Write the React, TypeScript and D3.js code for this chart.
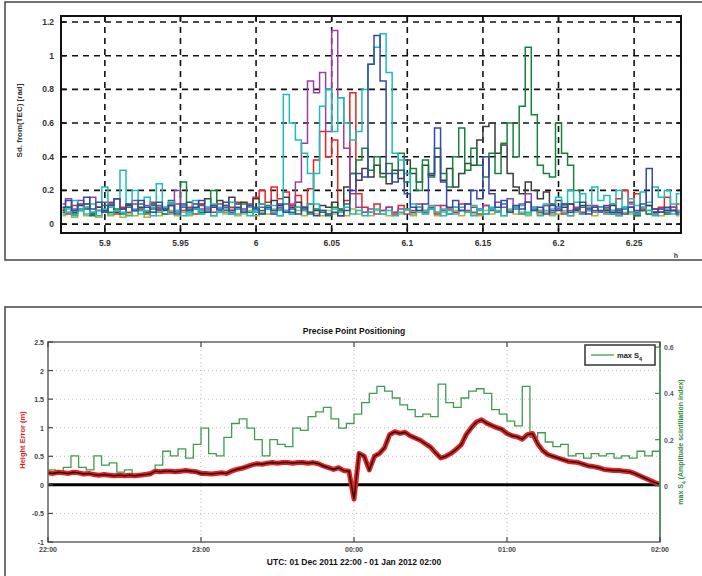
import React from 'react';
import * as d3 from 'd3';

// ---------- Top panel data ----------
const topTicksX = [5.9, 5.95, 6, 6.05, 6.1, 6.15, 6.2, 6.25];
const topTickLabelsX = ['5.9', '5.95', '6', '6.05', '6.1', '6.15', '6.2', '6.25'];
const topTicksY = [0, 0.2, 0.4, 0.6, 0.8, 1, 1.2];
const topTickLabelsY = ['0', '0.2', '0.4', '0.6', '0.8', '1', '1.2'];
const topStart = 5.872;
const topStep = 0.004;

const olive = [
  0.05,0.07,0.04,0.08,0.05,0.06,0.04,0.07,0.05,0.08,
  0.04,0.06,0.05,0.09,0.04,0.07,0.05,0.06,0.08,0.05,
  0.07,0.05,0.09,0.06,0.08,0.05,0.07,0.06,0.09,0.05,
  0.06,0.08,0.05,0.07,0.06,0.09,0.05,0.07,0.06,0.08,
  0.05,0.07,0.06,0.05,0.08,0.06,0.07,0.05,0.09,0.06,
  0.07,0.05,0.08,0.06,0.05,0.07,0.06,0.08,0.05,0.07,
  0.06,0.09,0.05,0.07,0.06,0.08,0.05,0.07,0.06,0.05,
  0.08,0.06,0.07,0.05,0.09,0.06,0.07,0.05,0.08,0.06,
  0.07,0.05,0.06,0.08,0.05,0.07,0.06,0.09,0.05,0.07,
  0.06,0.08,0.05,0.07,0.06,0.05,0.08,0.06,0.07,0.05,
  0.06,0.08,0.05,
];
const red = [
  0.09,0.06,0.11,0.08,0.12,0.07,0.1,0.08,0.13,0.06,
  0.1,0.07,0.12,0.09,0.06,0.11,0.08,0.1,0.07,0.12,
  0.08,0.1,0.06,0.11,0.09,0.07,0.12,0.08,0.1,0.13,
  0.09,0.12,0.16,0.2,0.13,0.22,0.15,0.19,0.11,0.17,
  0.1,0.21,0.38,0.55,0.4,0.5,0.05,0.14,0.78,0.18,
  0.1,0.07,0.12,0.08,0.1,0.06,0.11,0.09,0.07,0.12,
  0.08,0.1,0.06,0.11,0.09,0.07,0.12,0.08,0.1,0.06,
  0.11,0.09,0.07,0.12,0.08,0.1,0.06,0.13,0.09,0.07,
  0.11,0.08,0.1,0.06,0.12,0.09,0.07,0.11,0.08,0.1,
  0.07,0.12,0.15,0.2,0.13,0.18,0.09,0.11,0.07,0.1,
  0.16,0.08,0.12,
];
const dark = [
  0.08,0.1,0.07,0.11,0.09,0.06,0.1,0.08,0.12,0.07,
  0.09,0.11,0.08,0.1,0.07,0.12,0.09,0.08,0.11,0.07,
  0.1,0.13,0.09,0.12,0.15,0.1,0.14,0.11,0.16,0.12,
  0.13,0.1,0.15,0.12,0.09,0.14,0.11,0.16,0.1,0.13,
  0.09,0.12,0.08,0.11,0.1,0.13,0.09,0.22,0.3,0.26,
  0.33,0.28,0.35,0.3,0.24,0.32,0.27,0.38,0.3,0.25,
  0.35,0.29,0.4,0.26,0.33,0.22,0.3,0.36,0.35,0.5,
  0.58,0.6,0.42,0.47,0.3,0.22,0.18,0.25,0.2,0.15,
  0.19,0.12,0.14,0.1,0.12,0.08,0.11,0.09,0.07,0.1,
  0.08,0.11,0.07,0.09,0.1,0.06,0.08,0.11,0.07,0.09,
  0.08,0.1,0.07,
];
const green = [
  0.07,0.1,0.06,0.09,0.12,0.05,0.08,0.11,0.07,0.09,
  0.06,0.1,0.08,0.12,0.07,0.09,0.11,0.06,0.14,0.08,
  0.25,0.09,0.12,0.07,0.1,0.2,0.08,0.11,0.06,0.09,
  0.12,0.07,0.1,0.08,0.11,0.06,0.09,0.12,0.07,0.1,
  0.08,0.06,0.09,0.07,0.05,0.1,0.08,0.12,0.3,0.38,
  0.45,0.32,0.4,0.28,0.36,0.3,0.42,0.25,0.33,0.2,
  0.38,0.28,0.45,0.3,0.22,0.4,0.57,0.32,0.45,0.35,
  0.28,0.42,0.3,0.48,0.6,0.4,0.7,1.05,0.65,0.35,
  0.3,0.28,0.6,0.42,0.35,0.2,0.1,0.08,0.1,0.07,
  0.09,0.06,0.08,0.1,0.07,0.05,0.08,0.06,0.09,0.07,
  0.06,0.08,0.07,
];
const purple = [
  0.12,0.15,0.09,0.14,0.1,0.16,0.08,0.13,0.11,0.15,
  0.09,0.12,0.14,0.08,0.11,0.13,0.1,0.09,0.12,0.2,
  0.1,0.08,0.12,0.09,0.07,0.11,0.08,0.1,0.07,0.09,
  0.08,0.11,0.07,0.1,0.09,0.06,0.1,0.08,0.12,0.25,
  0.48,0.85,0.78,0.9,0.55,1.15,0.75,0.45,0.18,0.1,
  0.07,0.09,0.06,0.08,0.1,0.07,0.09,0.06,0.08,0.1,
  0.07,0.09,0.11,0.08,0.06,0.1,0.08,0.12,0.07,0.09,
  0.11,0.08,0.13,0.1,0.15,0.09,0.12,0.18,0.1,0.08,
  0.11,0.07,0.09,0.12,0.08,0.1,0.06,0.09,0.11,0.07,
  0.1,0.08,0.06,0.09,0.12,0.07,0.1,0.08,0.06,0.09,
  0.07,0.1,0.08,
];
const cyanA = [
  0.1,0.07,0.14,0.09,0.06,0.12,0.08,0.22,0.1,0.15,
  0.32,0.12,0.2,0.08,0.16,0.1,0.24,0.09,0.13,0.07,
  0.11,0.06,0.14,0.08,0.1,0.12,0.07,0.09,0.13,0.06,
  0.08,0.1,0.07,0.12,0.09,0.11,0.08,0.77,0.6,0.5,
  0.42,0.3,0.12,0.08,0.06,0.09,0.07,0.1,0.06,0.08,
  0.05,0.07,0.09,0.06,0.08,0.05,0.07,0.09,0.06,0.1,
  0.08,0.11,0.07,0.09,0.06,0.1,0.08,0.07,0.11,0.09,
  0.06,0.1,0.08,0.12,0.07,0.09,0.11,0.06,0.1,0.08,
  0.12,0.09,0.16,0.11,0.2,0.13,0.18,0.1,0.22,0.14,
  0.17,0.12,0.2,0.1,0.15,0.11,0.19,0.13,0.22,0.16,
  0.2,0.12,0.18,
];
const cyanB = [
  0.06,0.09,0.05,0.08,0.1,0.07,0.05,0.09,0.06,0.08,
  0.07,0.05,0.09,0.06,0.08,0.05,0.07,0.1,0.06,0.08,
  0.05,0.07,0.09,0.06,0.08,0.05,0.1,0.07,0.06,0.09,
  0.07,0.05,0.08,0.06,0.09,0.07,0.05,0.08,0.06,0.1,
  0.08,0.12,0.3,0.7,0.8,0.55,0.75,0.6,0.5,0.55,
  0.8,0.95,1.05,1.13,0.9,0.42,0.38,0.3,0.12,0.08,
  0.06,0.09,0.07,0.05,0.08,0.06,0.1,0.07,0.05,0.08,
  0.06,0.09,0.07,0.05,0.08,0.1,0.06,0.07,0.09,0.05,
  0.08,0.06,0.1,0.07,0.05,0.09,0.06,0.08,0.07,0.1,
  0.06,0.08,0.05,0.09,0.07,0.06,0.1,0.08,0.05,0.07,
  0.09,0.06,0.08,
];
const blue = [
  0.1,0.14,0.08,0.12,0.16,0.09,0.13,0.07,0.11,0.15,
  0.09,0.12,0.08,0.14,0.1,0.07,0.13,0.09,0.11,0.06,
  0.12,0.08,0.1,0.14,0.07,0.11,0.09,0.13,0.08,0.1,
  0.07,0.11,0.09,0.06,0.1,0.08,0.12,0.07,0.09,0.06,
  0.1,0.07,0.05,0.08,0.06,0.07,0.05,0.08,0.2,0.3,
  0.28,0.95,1.12,0.85,0.3,0.25,0.32,0.18,0.1,0.08,
  0.12,0.3,0.57,0.25,0.1,0.14,0.08,0.12,0.2,0.15,
  0.4,0.18,0.1,0.14,0.07,0.11,0.09,0.13,0.08,0.1,
  0.06,0.11,0.08,0.12,0.07,0.09,0.13,0.06,0.1,0.08,
  0.11,0.07,0.09,0.06,0.1,0.08,0.12,0.33,0.09,0.07,
  0.1,0.08,0.06,
];

const topSeries = [
  { name: 'olive', values: olive, color: '#b8b524' },
  { name: 'red', values: red, color: '#ee2020' },
  { name: 'dark', values: dark, color: '#3d3d3d' },
  { name: 'green', values: green, color: '#15833c' },
  { name: 'purple', values: purple, color: '#9a40a3' },
  { name: 'cyanB', values: cyanB, color: '#1bbdbd' },
  { name: 'cyanA', values: cyanA, color: '#1bbdbd' },
  { name: 'blue', values: blue, color: '#3448ae' },
];

// ---------- Bottom panel data ----------
const botTicksX = [22, 23, 24, 25, 26];
const botTickLabelsX = ['22:00', '23:00', '00:00', '01:00', '02:00'];
const botTicksYL = [-1, -0.5, 0, 0.5, 1, 1.5, 2, 2.5];
const botTickLabelsYL = ['-1', '-0.5', '0', '0.5', '1', '1.5', '2', '2.5'];
const botTicksYR = [0, 0.2, 0.4, 0.6];
const botTickLabelsYR = ['0', '0.2', '0.4', '0.6'];

// height error every 2 minutes from 22:00
const heightError = [
  0.21,0.2,0.22,0.21,0.2,0.22,0.21,0.19,0.2,0.18,
  0.17,0.18,0.17,0.16,0.17,0.16,0.17,0.16,0.17,0.18,
  0.19,0.24,0.23,0.24,0.24,0.23,0.24,0.25,0.24,0.23,
  0.2,0.2,0.19,0.2,0.21,0.2,0.24,0.27,0.29,0.32,
  0.35,0.37,0.36,0.38,0.39,0.38,0.39,0.39,0.38,0.39,
  0.39,0.38,0.39,0.37,0.33,0.3,0.27,0.3,0.25,0.24,
  -0.25,0.55,0.5,0.26,0.5,0.55,0.65,0.88,0.93,0.9,
  0.92,0.86,0.82,0.78,0.72,0.66,0.56,0.47,0.5,0.55,
  0.62,0.7,0.88,1.0,1.1,1.14,1.08,1.04,1.0,0.97,
  0.9,0.86,0.84,0.8,0.88,0.9,0.72,0.6,0.53,0.5,
  0.47,0.44,0.41,0.4,0.39,0.36,0.33,0.32,0.3,0.27,
  0.26,0.25,0.25,0.24,0.23,0.2,0.16,0.12,0.08,0.04,
  0.01,
];
// max S4 every 3 minutes from 22:00
const maxS4 = [
  0.07,0.06,0.08,0.13,0.08,0.07,0.13,0.09,0.1,0.06,
  0.07,0.05,0.05,0.06,0.09,0.15,0.13,0.16,0.12,0.18,
  0.25,0.14,0.13,0.21,0.27,0.29,0.25,0.2,0.13,0.2,
  0.18,0.17,0.25,0.24,0.3,0.32,0.34,0.29,0.25,0.27,
  0.31,0.36,0.4,0.43,0.41,0.38,0.35,0.33,0.3,0.31,
  0.3,0.44,0.36,0.34,0.38,0.41,0.42,0.4,0.33,0.31,
  0.28,0.26,0.43,0.21,0.23,0.19,0.17,0.18,0.13,0.14,
  0.12,0.14,0.13,0.14,0.12,0.13,0.12,0.15,0.13,0.15,
  0.13,
];

const FONT = 'Liberation Sans, Arial, sans-serif';

export default function App() {
  // top scales
  const tL = 61, tR = 681, tT = 16, tB = 233;
  const xTop = d3.scaleLinear().domain([5.871, 6.281]).range([tL, tR]);
  const yTop = d3.scaleLinear().domain([-0.053, 1.236]).range([tB, tT]);
  const topLine = d3
    .line<number>()
    .x((_, i) => xTop(topStart + topStep * i))
    .y((d) => yTop(d))
    .curve(d3.curveStep);

  // bottom scales
  const bL = 48, bR = 660, bT = 342, bB = 542;
  const xBot = d3.scaleLinear().domain([22, 26]).range([bL, bR]);
  const yL = d3.scaleLinear().domain([-1, 2.5]).range([bB, bT]);
  const yR = d3.scaleLinear().domain([-0.242, 0.622]).range([bB, bT]);
  const heLine = d3
    .line<number>()
    .x((_, i) => xBot(22 + (i * 2) / 60))
    .y((d) => yL(d));
  const s4Line = d3
    .line<number>()
    .x((_, i) => xBot(22 + (i * 3) / 60))
    .y((d) => yR(d))
    .curve(d3.curveStepAfter);

  return (
    <svg
      width={702}
      height={576}
      style={{ position: 'absolute', left: 0, top: 0, background: '#fff' }}
      fontFamily={FONT}
    >
      <defs>
        <clipPath id="clipTop">
          <rect x={tL} y={tT} width={tR - tL} height={tB - tT} />
        </clipPath>
        <clipPath id="clipBot">
          <rect x={bL} y={bT} width={bR - bL} height={bB - bT} />
        </clipPath>
      </defs>
      <rect width={702} height={576} fill="#fff" />

      {/* ---------- top frame ---------- */}
      <rect x={5} y={2} width={710} height={258} fill="none" stroke="#444" strokeWidth={1.5} />

      {/* top grid */}
      {topTicksX.map((t) => (
        <line key={'gx' + t} x1={xTop(t)} x2={xTop(t)} y1={tT} y2={tB} stroke="#111" strokeWidth={1.6} strokeDasharray="6 5" />
      ))}
      {topTicksY.map((t) => (
        <line key={'gy' + t} x1={tL} x2={tR} y1={yTop(t)} y2={yTop(t)} stroke="#111" strokeWidth={1.6} strokeDasharray="6 5" />
      ))}

      {/* top series */}
      <g clipPath="url(#clipTop)">
        {topSeries.map((s) => (
          <path key={s.name} d={topLine(s.values) || ''} fill="none" stroke={s.color} strokeWidth={1.5} />
        ))}
      </g>

      {/* top axes box */}
      <rect x={tL} y={tT} width={tR - tL} height={tB - tT} fill="none" stroke="#111" strokeWidth={2} />
      {topTicksX.map((t, i) => (
        <g key={'tx' + t}>
          <line x1={xTop(t)} x2={xTop(t)} y1={tB} y2={tB - 5} stroke="#111" strokeWidth={1.5} />
          <line x1={xTop(t)} x2={xTop(t)} y1={tT} y2={tT + 5} stroke="#111" strokeWidth={1.5} />
          <text x={xTop(t)} y={tB + 13} fontSize={8.5} fontWeight="bold" fill="#333" textAnchor="middle">
            {topTickLabelsX[i]}
          </text>
        </g>
      ))}
      {topTicksY.map((t, i) => (
        <g key={'ty' + t}>
          <line x1={tL} x2={tL + 5} y1={yTop(t)} y2={yTop(t)} stroke="#111" strokeWidth={1.5} />
          <line x1={tR} x2={tR - 5} y1={yTop(t)} y2={yTop(t)} stroke="#111" strokeWidth={1.5} />
          <text x={tL - 7} y={yTop(t) + 3} fontSize={8.5} fontWeight="bold" fill="#333" textAnchor="end">
            {topTickLabelsY[i]}
          </text>
        </g>
      ))}
      <text
        transform={`translate(22,${(tT + tB) / 2 - 4}) rotate(-90)`}
        fontSize={8}
        fontWeight="bold"
        fill="#333"
        textAnchor="middle"
      >
        Sd. from(TEC) [rad]
      </text>
      <text x={676} y={258} fontSize={7} fontWeight="bold" fill="#333" textAnchor="middle">
        h
      </text>

      {/* ---------- bottom frame ---------- */}
      <rect x={5} y={307} width={710} height={290} fill="none" stroke="#444" strokeWidth={1.5} />

      <text x={354} y={334} fontSize={8.5} fontWeight="bold" fill="#111" textAnchor="middle">
        Precise Point Positioning
      </text>

      {/* bottom grid */}
      {botTicksX.map((t) => (
        <line key={'bgx' + t} x1={xBot(t)} x2={xBot(t)} y1={bT} y2={bB} stroke="#bbb" strokeWidth={1} strokeDasharray="1 3" />
      ))}
      {botTicksYL.map((t) => (
        <line key={'bgy' + t} x1={bL} x2={bR} y1={yL(t)} y2={yL(t)} stroke="#bbb" strokeWidth={1} strokeDasharray="1 3" />
      ))}

      <g clipPath="url(#clipBot)">
        {/* zero reference line */}
        <line x1={bL} x2={bR} y1={yL(0)} y2={yL(0)} stroke="#000" strokeWidth={3} />
        {/* max S4 */}
        <path d={s4Line(maxS4) || ''} fill="none" stroke="#3f9c50" strokeWidth={1.3} />
        {/* height error */}
        <path d={heLine(heightError) || ''} fill="none" stroke="#ee1d1d" strokeWidth={5} strokeLinejoin="round" />
        <path d={heLine(heightError) || ''} fill="none" stroke="#111" strokeWidth={1.4} />
      </g>

      {/* bottom axes */}
      <rect x={bL} y={bT} width={bR - bL} height={bB - bT} fill="none" stroke="#666" strokeWidth={1.5} />
      <line x1={bR} x2={bR} y1={bT} y2={bB} stroke="#4a9a55" strokeWidth={1.5} />
      {botTicksX.map((t, i) => (
        <g key={'bx' + t}>
          <line x1={xBot(t)} x2={xBot(t)} y1={bB} y2={bB - 5} stroke="#444" strokeWidth={1.2} />
          <line x1={xBot(t)} x2={xBot(t)} y1={bT} y2={bT + 5} stroke="#444" strokeWidth={1.2} />
          <text x={xBot(t)} y={bB + 10} fontSize={7} fontWeight="bold" fill="#444" textAnchor="middle">
            {botTickLabelsX[i]}
          </text>
        </g>
      ))}
      {botTicksYL.map((t, i) => (
        <g key={'byl' + t}>
          <line x1={bL} x2={bL + 5} y1={yL(t)} y2={yL(t)} stroke="#444" strokeWidth={1.2} />
          <text x={bL - 4} y={yL(t) + 3} fontSize={7} fontWeight="bold" fill="#444" textAnchor="end">
            {botTickLabelsYL[i]}
          </text>
        </g>
      ))}
      {botTicksYR.map((t, i) => (
        <g key={'byr' + t}>
          <line x1={bR} x2={bR - 5} y1={yR(t)} y2={yR(t)} stroke="#3a8a45" strokeWidth={1.2} />
          <text x={bR + 4} y={yR(t) + 3} fontSize={7} fontWeight="bold" fill="#557" textAnchor="start">
            {botTickLabelsYR[i]}
          </text>
        </g>
      ))}
      <text
        transform={`translate(25,${(bT + bB) / 2 - 2}) rotate(-90)`}
        fontSize={7.5}
        fontWeight="bold"
        fill="#e01818"
        textAnchor="middle"
      >
        Height Error (m)
      </text>
      <text
        transform={`translate(683,${(bT + bB) / 2}) rotate(-90)`}
        fontSize={7}
        fontWeight="bold"
        fill="#2f8a3a"
        textAnchor="middle"
      >
        max S<tspan baselineShift="sub" fontSize={5}>4</tspan> (Amplitude scintillation index)
      </text>
      <text x={354} y={565} fontSize={8.5} fontWeight="bold" fill="#111" textAnchor="middle">
        UTC: 01 Dec 2011 22:00 - 01 Jan 2012 02:00
      </text>

      {/* legend */}
      <rect x={585} y={345} width={70} height={20} fill="#fff" stroke="#333" strokeWidth={1.5} />
      <line x1={591} x2={614} y1={355} y2={355} stroke="#3f9c50" strokeWidth={1.3} />
      <text x={617} y={358} fontSize={7.5} fontWeight="bold" fill="#222">
        max S<tspan baselineShift="sub" fontSize={5.5}>4</tspan>
      </text>
    </svg>
  );
}
